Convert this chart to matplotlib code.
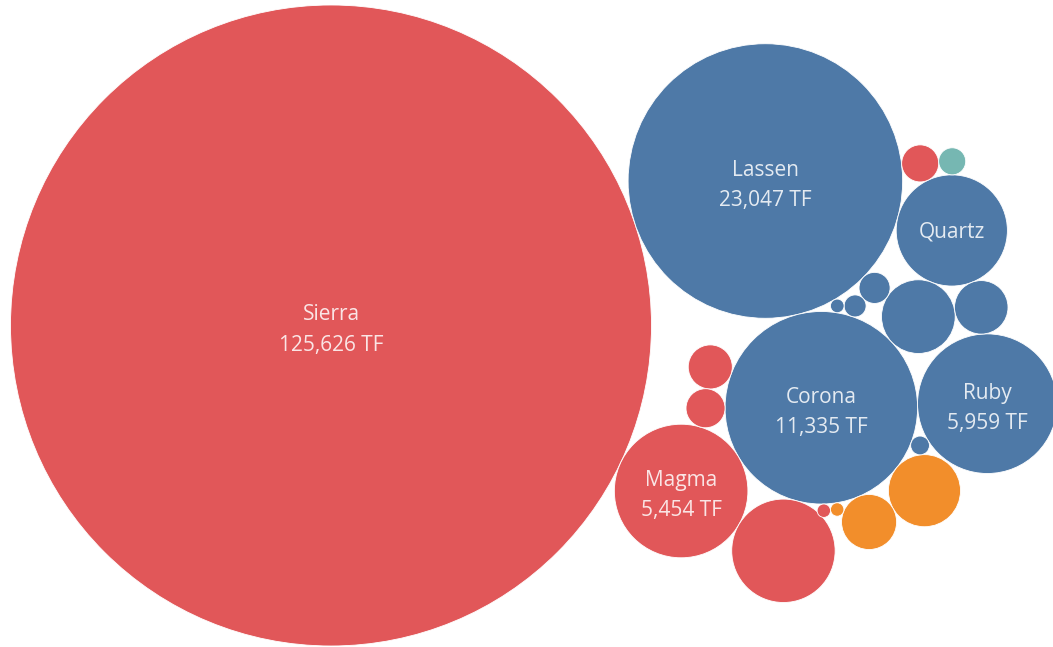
import numpy as np
import matplotlib
matplotlib.use("Agg")
import matplotlib.pyplot as plt
from matplotlib.patches import Circle

# systems and their compute (TF); unnamed bubbles carry no label
names = ["Sierra", "Lassen", "Corona", "Ruby", "Magma", "Quartz",
         "", "", "", "", "", "", "", "", "", "", "", "", "", "", ""]
values = [125626, 23047, 11335, 5959, 5454, 3780,
          3270, 1660, 1590, 928, 875, 594, 466, 420, 295, 224, 148, 108, 57, 55, 55]
groups = ["red", "blue", "blue", "blue", "red", "blue",
          "red", "blue", "orange", "orange", "blue", "red", "red", "red", "blue",
          "teal", "blue", "blue", "blue", "red", "orange"]

palette = {"red": "#E15759", "blue": "#4E79A7", "orange": "#F28E2B", "teal": "#76B7B2"}

# packing: each bubble sits on one anchor at an angle, or touches two placed bubbles
layout = [
    (0, None),
    (1, ("polar", 0, -18.4)),
    (4, ("polar", 0, 25.3)),
    (2, ("touch", 1, 4, -1)),
    (18, ("touch", 1, 2, -1)),
    (16, ("touch", 18, 2, -1)),
    (14, ("touch", 16, 1, 1)),
    (7, ("touch", 14, 2, -1)),
    (5, ("touch", 7, 1, 1)),
    (13, ("touch", 1, 5, -1)),
    (15, ("touch", 13, 5, -1)),
    (10, ("touch", 7, 5, 1)),
    (3, ("touch", 10, 2, -1)),
    (17, ("touch", 3, 2, -1)),
    (8, ("touch", 17, 2, -1)),
    (9, ("touch", 8, 2, -1)),
    (20, ("touch", 9, 2, -1)),
    (19, ("touch", 20, 2, -1)),
    (6, ("touch", 4, 2, 1)),
    (12, ("touch", 2, 4, 1)),
    (11, ("touch", 12, 2, -1)),
]

W, H = 1053, 647
R_MAX = 320.5  # radius of the biggest bubble in pixels

vals = np.array(values, dtype=float)
radii = R_MAX * np.sqrt(vals / vals.max())
pos = {}


def touch(a, b, r, side):
    pa, pb = np.array(pos[a]), np.array(pos[b])
    d1, d2 = radii[a] + r, radii[b] + r
    vec = pb - pa
    d = np.hypot(*vec)
    u = vec / d
    perp = np.array([-u[1], u[0]])
    along = (d**2 + d1**2 - d2**2) / (2 * d)
    h = np.sqrt(max(d1**2 - along**2, 0))
    return pa + along * u + side * h * perp


for i, rule in layout:
    if rule is None:
        pos[i] = np.array([0.0, 0.0])
    elif rule[0] == "polar":
        _, a, ang = rule
        t = np.radians(ang)
        dist = radii[a] + radii[i]
        pos[i] = pos[a] + dist * np.array([np.cos(t), np.sin(t)])
    else:
        _, a, b, side = rule
        pos[i] = touch(a, b, radii[i], side)

xs = np.array([pos[i][0] for i in range(len(values))])
ys = np.array([pos[i][1] for i in range(len(values))])

fig = plt.figure(figsize=(W / 100, H / 100), dpi=100)
ax = fig.add_axes([0, 0, 1, 1])
ax.axis("off")

left = (xs - radii).min() - 10.5
top = (ys - radii).min() - 5
ax.set_xlim(left, left + W)
ax.set_ylim(top + H, top)

for x, y, r, g in zip(xs, ys, radii, groups):
    ax.add_patch(Circle((x, y), r, facecolor=palette[g], edgecolor="white", linewidth=0.6))

lbl = dict(ha="center", va="baseline", color="white", alpha=0.85,
           fontsize=15, family="Open Sans")
for x, y, r, n, v in zip(xs, ys, radii, names, values):
    if not n:
        continue
    if r >= 60:
        ax.text(x, y - 5, n, **lbl)
        ax.text(x, y + 25, f"{v:,} TF", **lbl)
    else:
        ax.text(x, y + 7, n, **lbl)

fig.savefig("out.png", dpi=100)
